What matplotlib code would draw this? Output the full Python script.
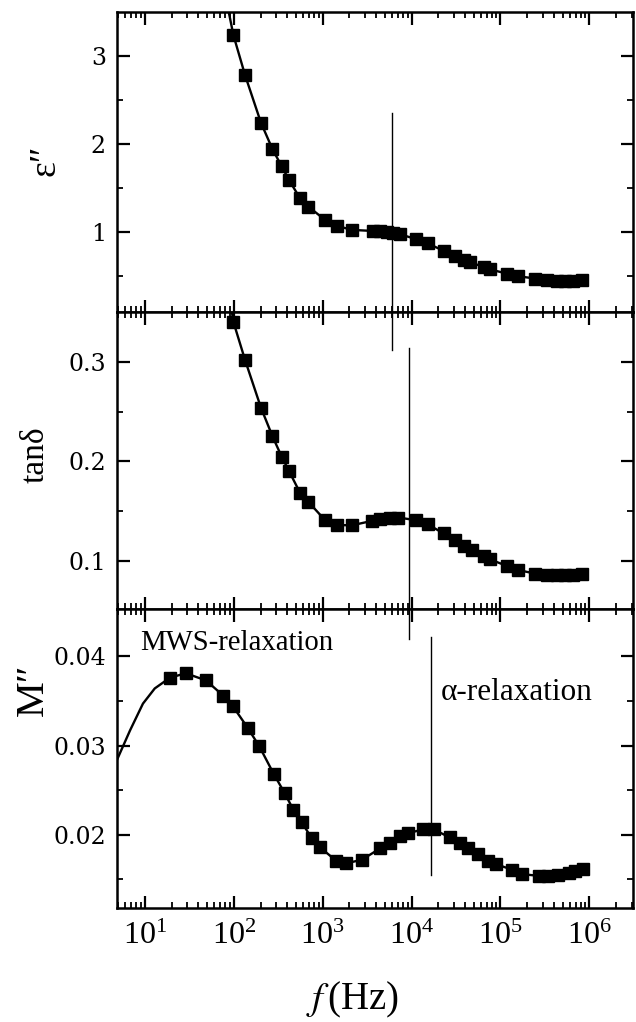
import numpy as np
import matplotlib
matplotlib.use("Agg")
import matplotlib.pyplot as plt
from matplotlib.ticker import FixedLocator, LogLocator, NullFormatter, FixedFormatter
from matplotlib.lines import Line2D
from matplotlib.transforms import blended_transform_factory

plt.rcParams['font.family'] = ['Liberation Serif', 'DejaVu Serif']
plt.rcParams['mathtext.fontset'] = 'stix'

# ---------------- data ----------------
f_eps = [99, 134, 202, 272, 346, 417, 556, 690, 1064, 1442, 2163, 3724, 4426,
         5248, 6166, 7413, 11220, 15136, 22909, 30903, 38905, 45709, 64565,
         76736, 117490, 158489, 245471, 331131, 436516, 537032, 660693, 831764]
eps2 = [3.236, 2.78, 2.24, 1.94, 1.743, 1.59, 1.38, 1.286, 1.133, 1.065, 1.02,
        1.008, 1.008, 1.0, 0.99, 0.97, 0.916, 0.867, 0.783, 0.722, 0.676, 0.65,
        0.60, 0.57, 0.524, 0.493, 0.467, 0.45, 0.44, 0.44, 0.44, 0.45]
eps_lead_f = [83]
eps_lead = [3.62]

f_tan = [99, 134, 202, 272, 346, 417, 556, 690, 1064, 1442, 2163, 3631, 4467,
         5754, 7079, 11220, 15136, 22909, 30903, 38905, 47863, 64565, 76736,
         117490, 158489, 245471, 331131, 436516, 537032, 660693, 831764]
tand = [0.340, 0.3017, 0.254, 0.2254, 0.2047, 0.1906, 0.1686, 0.1595, 0.1411,
        0.1361, 0.1361, 0.1405, 0.142, 0.1438, 0.1438, 0.1411, 0.1371, 0.1278,
        0.121, 0.115, 0.111, 0.105, 0.1017, 0.0953, 0.091, 0.0876, 0.086,
        0.086, 0.086, 0.086, 0.087]
tan_lead_f = [93]
tan_lead = [0.356]

f_M = [19.1, 28.8, 48.6, 75.9, 97.7, 143, 194, 282, 372, 468, 582, 753, 933,
       1413, 1820, 2754, 4467, 5754, 7413, 9226, 13490, 17783, 26915, 35481,
       43652, 56234, 72444, 89125, 134896, 173780, 269153, 346737, 446684,
       588844, 691831, 851138]
M2 = [0.0376, 0.0381, 0.0373, 0.0356, 0.0344, 0.0320, 0.0299, 0.0268, 0.0247,
      0.0228, 0.0214, 0.0196, 0.0186, 0.0171, 0.0168, 0.0172, 0.0185, 0.0191,
      0.0199, 0.0202, 0.0206, 0.0206, 0.0197, 0.0191, 0.0185, 0.0178, 0.0171,
      0.0167, 0.0161, 0.0156, 0.0154, 0.0154, 0.0155, 0.0157, 0.0159, 0.0162]
M_lead_f = [4.8, 6.8, 9.5, 12.9]
M_lead = [0.0283, 0.0317, 0.0347, 0.0364]

# relaxation-frequency markers (Hz)
vline_f = [6.0e3, 9.4e3, 1.66e4]

xticks_major = [1e1, 1e2, 1e3, 1e4, 1e5, 1e6]
xtick_labels = [r'$\mathregular{10^{%d}}$' % k for k in range(1, 7)]

# ---------------- figure ----------------
W, H = 636, 1022
fig = plt.figure(figsize=(W / 100, H / 100), dpi=100)

left = 117 / W
right = 633 / W
edges = [12, 312, 609, 908]
axes = []
for i in range(3):
    top = 1 - edges[i] / H
    bot = 1 - edges[i + 1] / H
    ax = fig.add_axes([left, bot, right - left, top - bot])
    axes.append(ax)

ax1, ax2, ax3 = axes
ms = 8.0
lw = 1.7

ax1.plot(eps_lead_f + f_eps, eps_lead + eps2, '-', color='black', lw=lw)
ax1.plot(f_eps, eps2, 's', color='black', ms=ms)
ax2.plot(tan_lead_f + f_tan, tan_lead + tand, '-', color='black', lw=lw)
ax2.plot(f_tan, tand, 's', color='black', ms=ms)
ax3.plot(M_lead_f + f_M, M_lead + M2, '-', color='black', lw=lw)
ax3.plot(f_M, M2, 's', color='black', ms=ms)

ylims = [(0.086, 3.5), (0.052, 0.35), (0.0118, 0.0453)]
ymajor = [[1, 2, 3], [0.1, 0.2, 0.3], [0.02, 0.03, 0.04]]
ylabels_txt = [['1', '2', '3'], ['0.1', '0.2', '0.3'], ['0.02', '0.03', '0.04']]
yminor = [[0.5, 1.5, 2.5], [0.05, 0.15, 0.25], [0.015, 0.025, 0.035]]

for i, ax in enumerate(axes):
    ax.set_xscale('log')
    ax.set_xlim(4.85, 3.1e6)
    ax.set_ylim(*ylims[i])
    ax.xaxis.set_major_locator(FixedLocator(xticks_major))
    ax.xaxis.set_minor_locator(LogLocator(base=10, subs=np.arange(2, 10), numticks=20))
    ax.xaxis.set_minor_formatter(NullFormatter())
    ax.yaxis.set_major_locator(FixedLocator(ymajor[i]))
    ax.yaxis.set_major_formatter(FixedFormatter(ylabels_txt[i]))
    ax.yaxis.set_minor_locator(FixedLocator(yminor[i]))
    ax.tick_params(which='both', direction='in', top=True, right=True,
                   bottom=True, left=True)
    ax.tick_params(which='major', length=9, width=1.6)
    ax.tick_params(which='minor', length=4.5, width=1.3)
    ax.tick_params(axis='y', which='major', labelsize=17, pad=8)
    for lab in ax.get_yticklabels():
        lab.set_family(['DejaVu Serif'])
    for s in ax.spines.values():
        s.set_linewidth(1.8)
    if i < 2:
        ax.tick_params(axis='x', labelbottom=False)

ax3.set_xticklabels(xtick_labels)
ax3.tick_params(axis='x', which='major', labelsize=23, pad=10)

# y labels
fig.text(45 / W, 1 - 160 / H, 'ε\u2033', rotation=90, fontsize=27,
         ha='center', va='center', family=['Liberation Serif', 'DejaVu Serif'])
fig.text(35 / W, 1 - 455 / H, 'tanδ', rotation=90, fontsize=24,
         ha='center', va='center', family=['Liberation Serif', 'DejaVu Serif'])
fig.text(33 / W, 1 - 690 / H, 'M\u2033', rotation=90, fontsize=29,
         ha='center', va='center', family=['Liberation Serif', 'DejaVu Serif'])

# x label
fig.text(352 / W, 1 - 1000 / H, r'$\mathit{f}\,$(Hz)', fontsize=28,
         ha='center', va='center')

# annotations
ax3.text(0.045, 0.885, 'MWS-relaxation', transform=ax3.transAxes,
         fontsize=20.7, ha='left', va='center')
ax3.text(0.627, 0.72, 'α-relaxation', transform=ax3.transAxes,
         fontsize=22.5, ha='left', va='center',
         family=['Liberation Serif', 'DejaVu Serif'])

# vertical relaxation lines, spanning across panels
vspans = [(113, 350), (348, 639), (637, 875)]
for fv, (y0, y1) in zip(vline_f, vspans):
    tr = blended_transform_factory(ax1.transData, fig.transFigure)
    fig.add_artist(Line2D([fv, fv], [1 - y0 / H, 1 - y1 / H], transform=tr,
                          color='black', lw=1.0))

fig.savefig('out.png', dpi=100)
